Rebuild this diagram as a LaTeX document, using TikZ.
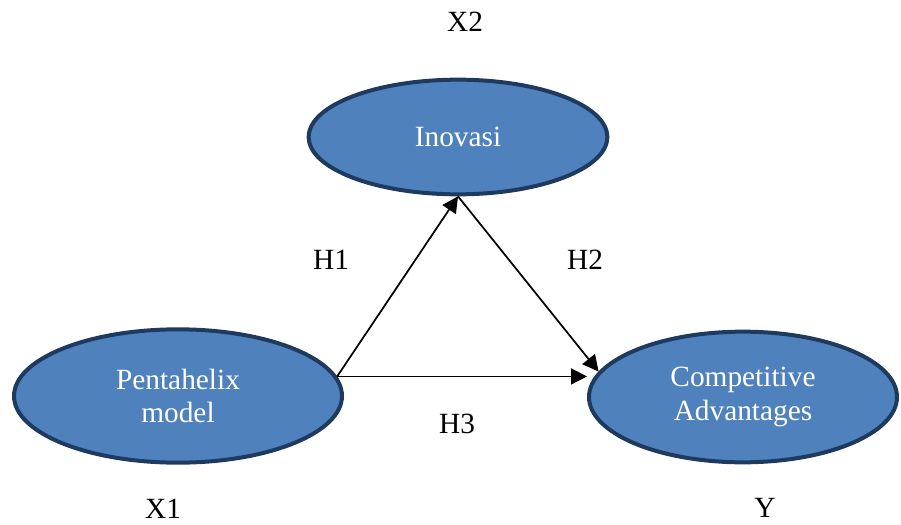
\documentclass[tikz,border=0pt]{standalone}
\usepackage{fontspec}
\setmainfont{Liberation Serif}
\usepackage{tikz}
\usetikzlibrary{arrows.meta,positioning,shapes.geometric}
\definecolor{varfill}{HTML}{4F81BD}
\definecolor{varline}{HTML}{1F3A5F}
\tikzset{
  var/.style={draw=varline,line width=3pt,fill=varfill,ellipse,inner sep=0pt,text=white,align=center,font=\fontsize{22}{25}\selectfont},
  arr/.style={-{Triangle[length=12pt,width=12pt]},line width=1.3pt},
  lbl/.style={font=\fontsize{22}{25}\selectfont,inner sep=0pt},
}

\begin{document}
\begin{tikzpicture}[x=0.75pt,y=-0.75pt]
 \useasboundingbox (0,0) rectangle (901,525);
 % variables
 \node[var,minimum width=224pt,minimum height=86pt] (inov) at (458,137) {Inovasi};
 \node[var,minimum width=246pt,minimum height=100pt] (pent) at (178,396) {Pentahelix\\model};
 \node[var,minimum width=231pt,minimum height=98pt] (comp) at (743,397) {Competitive\\Advantages};
 % paths
 \draw[arr] (pent.7) -- (inov.south);
 \draw[arr] (inov.south) -- (comp.170);
 \draw[arr] (pent.7) -- (pent.7 -| comp.west);
 % labels
 \node[lbl] (x2) at (465,22) {X2};
 \node[lbl] (h1) at (331,260) {H1};
 \node[lbl] (h2) at (585,260) {H2};
 \node[lbl] (h3) at (457,424) {H3};
 \node[lbl] (x1) at (163,509) {X1};
 \node[lbl] (y) at (765,508) {Y};
\end{tikzpicture}
\end{document}
